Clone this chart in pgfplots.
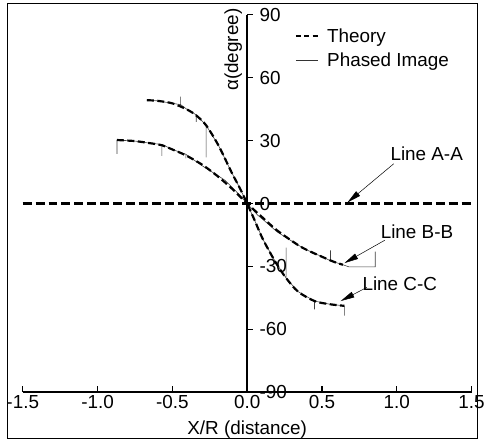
\documentclass[border=0pt]{standalone}
\usepackage{fontspec}
\setmainfont{Liberation Sans}
\usepackage{pgfplots}
\pgfplotsset{compat=1.18}
\usetikzlibrary{arrows.meta}
\newcommand\fs{\fontsize{19}{22}\selectfont}
\begin{document}
\begin{tikzpicture}
\begin{axis}[
  width=452pt, height=380pt, scale only axis,
  xmin=-1.5, xmax=1.5, ymin=-90, ymax=90,
  axis x line*=bottom, axis y line*=center,
  axis line style={-, line width=1.5pt},
  hide obscured x ticks=false, hide obscured y ticks=false,
  xtick={-1.5,-1,-0.5,0,0.5,1,1.5},
  ytick={-90,-60,-30,0,30,60,90},
  tick align=inside,
  major tick length=6pt,
  tick style={line width=1.2pt, black},
  /pgf/number format/assume math mode=true,
  xticklabel style={font=\fs, /pgf/number format/fixed, /pgf/number format/fixed zerofill, /pgf/number format/precision=1},
  yticklabel style={font=\fs, anchor=west, xshift=9pt},
  clip=false,
  legend style={draw=none, fill=none, at={(rel axis cs:0.6,0.975)}, anchor=north west, font=\fs, row sep=5pt},
  legend cell align=left,
  legend image code/.code={\draw[#1] (0pt,0pt) -- (22pt,0pt); \path (29pt,0pt);},
]
\addlegendimage{black, line width=1.2pt, dash pattern=on 5pt off 3.5pt}
\addlegendentry{Theory}
\addlegendimage{black!80, line width=0.7pt}
\addlegendentry{Phased Image}

% bounding box and frame
\path (axis cs:-1.652,97.1) rectangle (axis cs:1.586,-114.6);
\draw[line width=1pt] (axis cs:-1.599,95.2) rectangle (axis cs:1.539,-112.3);

% Line A-A (theory)
\addplot[black, line width=2.2pt, dash pattern=on 9pt off 4pt, forget plot] coordinates {(-1.5,0) (1.5,0)};

% Phased image C
\addplot[black!75, line width=0.6pt, forget plot] coordinates {
(-0.67,49.3) (-0.6,49) (-0.5,47.8) (-0.445,47.2) (-0.445,51) (-0.445,47.2) (-0.4,44.8) (-0.34,42.3) (-0.34,39) (-0.34,42.3) (-0.274,37.3) (-0.274,22) (-0.274,37.3) (-0.19,27.5) (-0.105,15) (-0.05,7.5) (0,0)
(0.05,-8) (0.105,-17) (0.19,-28) (0.26,-35.5) (0.26,-21) (0.26,-35.5) (0.34,-42) (0.45,-46.5) (0.45,-50.5) (0.45,-46.5) (0.55,-48) (0.65,-48.8) (0.65,-53.5)};

% Phased image B
\addplot[black!75, line width=0.6pt, forget plot] coordinates {
(-0.87,23.7) (-0.87,30.3) (-0.75,29.8) (-0.65,28.8) (-0.57,28.2) (-0.57,22.7) (-0.57,28.2) (-0.5,25.8) (-0.41,23.5) (-0.41,21.5) (-0.41,23.5) (-0.3,18) (-0.2,13.5) (-0.146,11) (-0.07,5.5) (0,0)
(0.07,-5.5) (0.12,-8.5) (0.2,-13.5) (0.34,-19.8) (0.41,-22.5) (0.52,-26) (0.557,-27.3) (0.557,-22.3) (0.557,-27.3) (0.64,-29.2) (0.68,-30.2) (0.856,-30.2) (0.856,-22.9)};

% Theory C
\addplot[black, line width=2.2pt, dash pattern=on 7pt off 3.5pt, smooth, forget plot] coordinates {
(-0.67,49.3) (-0.6,49) (-0.5,47.8) (-0.4,44.8) (-0.34,42) (-0.274,37.3) (-0.19,27.5) (-0.105,15) (-0.05,7.5) (0,0)
(0.05,-8) (0.105,-17) (0.19,-28) (0.26,-35.5) (0.34,-42) (0.45,-46.5) (0.55,-48) (0.65,-48.8)};

% Theory B
\addplot[black, line width=2.2pt, dash pattern=on 7pt off 3.5pt, smooth, forget plot] coordinates {
(-0.87,30.3) (-0.75,29.8) (-0.65,28.8) (-0.57,27.8) (-0.5,25.8) (-0.41,23) (-0.3,18.5) (-0.2,13.2) (-0.1,7) (0,0)
(0.1,-6.5) (0.2,-12.8) (0.34,-19.8) (0.41,-22.5) (0.52,-26) (0.58,-27.8) (0.64,-29.2)};

% annotations
\node[font=\fs] at (axis cs:1.2,23.7) {Line A-A};
\node[font=\fs] at (axis cs:1.135,-13.3) {Line B-B};
\node[font=\fs] at (axis cs:1.02,-38.4) {Line C-C};
\draw[line width=0.5pt, -{Triangle[length=14pt,width=6pt]}] (axis cs:0.98,19) -- (axis cs:0.67,0.5);
\draw[line width=0.5pt, -{Triangle[length=14pt,width=6pt]}] (axis cs:0.92,-17.5) -- (axis cs:0.65,-28.4);
\draw[line width=0.5pt, -{Triangle[length=14pt,width=6pt]}] (axis cs:0.8,-40) -- (axis cs:0.625,-46.5);

% labels
\node[font=\fs, rotate=90] at (axis cs:-0.093,73.4) {α(degree)};
\node[font=\fs] at (axis cs:0,-108) {X/R (distance)};
\end{axis}
\end{tikzpicture}
\end{document}
